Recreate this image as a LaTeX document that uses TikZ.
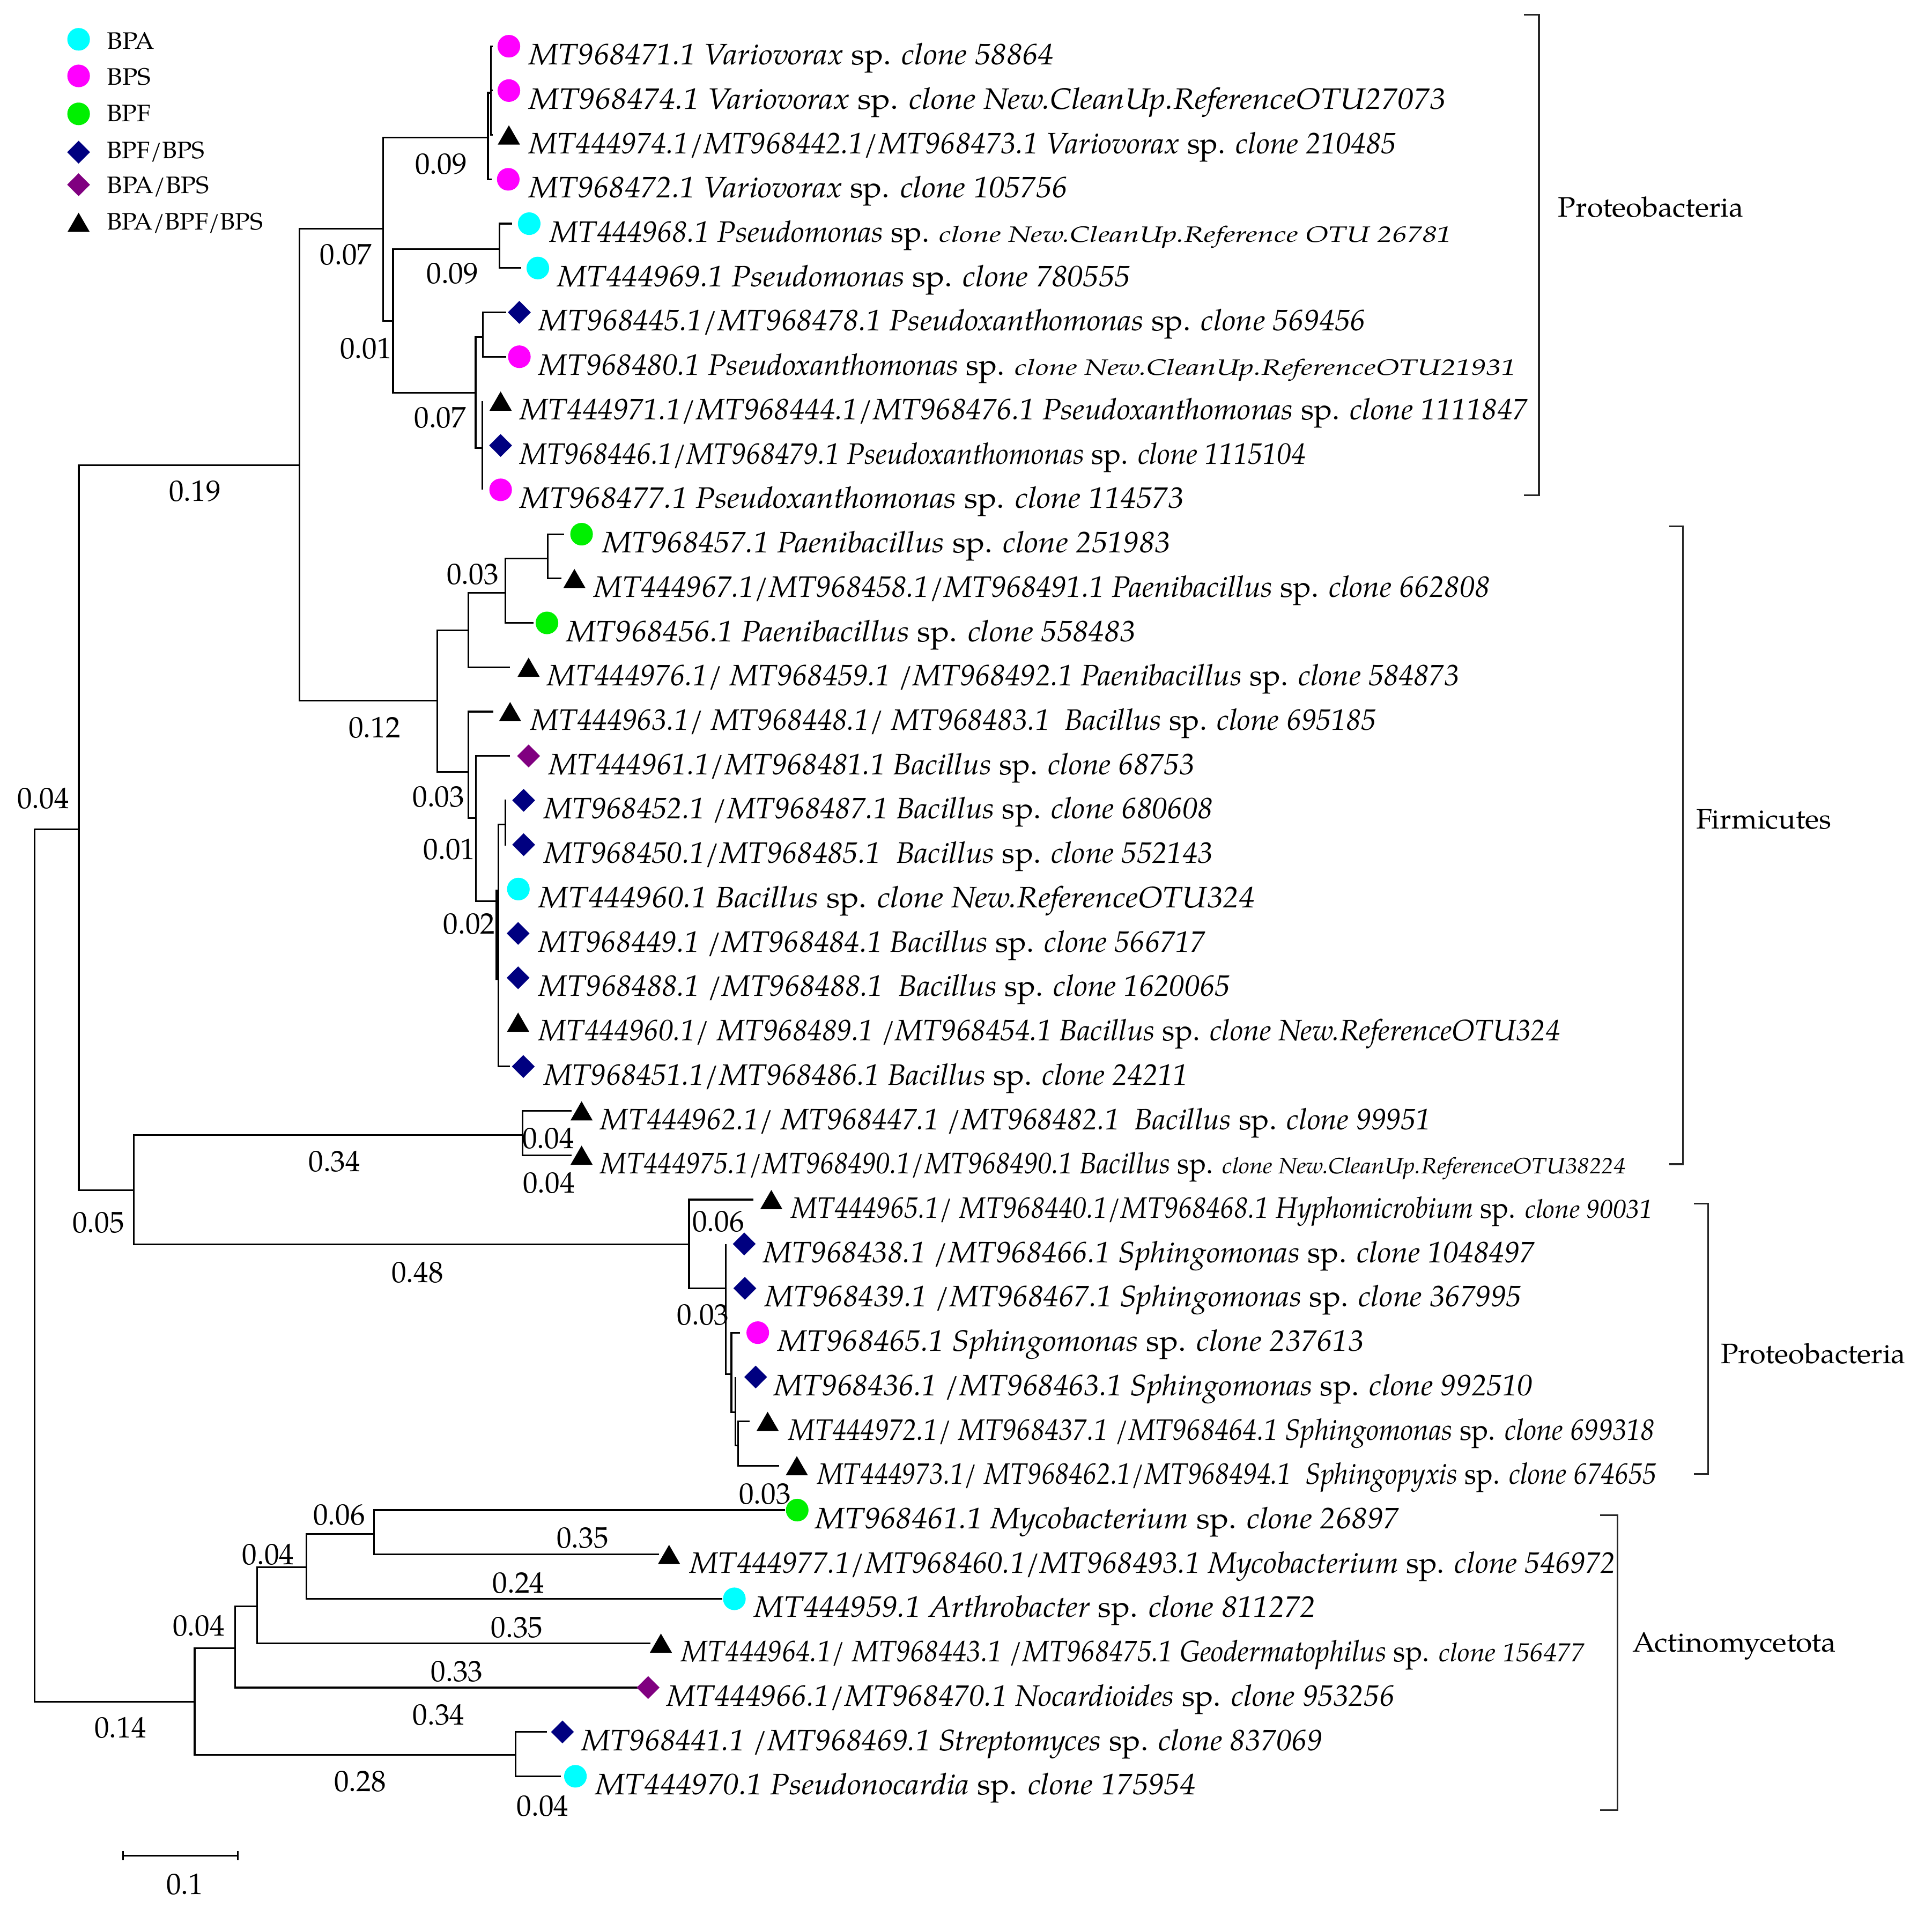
\documentclass[tikz,border=0pt]{standalone}
\usepackage{fontspec}
\setmainfont{TeX Gyre Pagella}
\usepackage{graphicx}
\usetikzlibrary{shapes.geometric}
\definecolor{cBPA}{RGB}{0,255,255}
\definecolor{cBPS}{RGB}{255,0,255}
\definecolor{cBPF}{RGB}{0,240,0}
\definecolor{cFS}{RGB}{0,0,128}
\definecolor{cAS}{RGB}{128,0,128}
\newlength\fwlen
\newcommand\fitw[2]{\settowidth\fwlen{#2}\pgfmathsetmacro\fwr{#1*0.65384/\fwlen}\scalebox{\fwr}[1]{#2}}
\newcommand\spp{{\upshape sp.}}
\newcommand\smA[2]{\fitw{#1}{\fontsize{11.8}{12}\selectfont #2}}
\newcommand\smB[2]{\fitw{#1}{\fontsize{13.8}{14}\selectfont #2}}
\tikzset{
 br/.style={line width=0.9pt},
 brk/.style={line width=0.9pt, draw=black!85},
 symc/.style={circle, inner sep=0pt, minimum size=12pt, fill=#1},
 symd/.style={diamond, inner sep=0pt, minimum width=12.3pt, minimum height=12.3pt, fill=#1},
 symt/.style={regular polygon, regular polygon sides=3, inner sep=0pt, minimum size=13.6pt, fill=black, yshift=-1.7pt},
 leaf/.style={inner sep=0pt, anchor=base west, font=\fontsize{15.7}{18}\selectfont\itshape},
 num/.style={inner sep=0pt, font=\fontsize{15.7}{18}\selectfont},
 leg/.style={inner sep=0pt, anchor=base west, font=\fontsize{12.6}{14}\selectfont},
 clade/.style={inner sep=0pt, anchor=base west, font=\fontsize{14.9}{16}\selectfont},
}
\newcommand\leaf[7]{\node[#2] (s#1) at (#3,#4) {};\node[leaf] (n#1) at (#5,#4+15) {\fitw{#6}{#7}};}
\newcommand\edge[2]{\draw[br] (#1) |- (#2);}
\begin{document}
\begin{tikzpicture}[x=0.02298cm, y=-0.02298cm]
\useasboundingbox (0,0) rectangle (1568,1560.6);
% ---------- legend
\node[symc=cBPA] (g1) at (63.8,31.9) {};
\node[leg] (lg1) at (86.6,39.7) {\fitw{38.3}{BPA}};
\node[symc=cBPS] (g2) at (63.8,61.6) {};
\node[leg] (lg2) at (86.6,68.8) {\fitw{35.5}{BPS}};
\node[symc=cBPF] (g3) at (63.8,92.4) {};
\node[leg] (lg3) at (86.6,98.5) {\fitw{35.5}{BPF}};
\node[symd=cFS] (g4) at (63.8,123.5) {};
\node[leg] (lg4) at (86.6,128.5) {\fitw{79.1}{BPF/BPS}};
\node[symd=cAS] (g5) at (63.8,149.9) {};
\node[leg] (lg5) at (86.6,156.8) {\fitw{82.7}{BPA/BPS}};
\node[symt] (g6) at (63.8,180.4) {};
\node[leg] (lg6) at (86.6,186.5) {\fitw{126.5}{BPA/BPF/BPS}};
% ---------- internal nodes
\coordinate (R) at (28,673);
\coordinate (A) at (64,673);
\coordinate (Act) at (158,1381);
\coordinate (B) at (243,377.5);
\coordinate (F) at (108.5,966);
\coordinate (C) at (311,185.5);
\coordinate (X) at (355,568.5);
\coordinate (D) at (396,111.7);
\coordinate (S) at (319,260.3);
\coordinate (E) at (398.5,75.3);
\coordinate (T) at (405.5,202);
\coordinate (U) at (386,318.6);
\coordinate (V) at (392,273.4);
\coordinate (W) at (391.3,363.6);
\coordinate (Y) at (380,511.6);
\coordinate (BB) at (380,626.4);
\coordinate (Z) at (410.3,481);
\coordinate (AA) at (444.5,453.3);
\coordinate (CC) at (386.3,664);
\coordinate (DD) at (404.5,731.5);
\coordinate (EE) at (410,669.2);
\coordinate (G) at (424,921);
\coordinate (H) at (559.2,1010);
\coordinate (I) at (589.2,1045.6);
\coordinate (J) at (593.6,1115);
\coordinate (K) at (596.9,1146);
\coordinate (L) at (599,1173);
\coordinate (M) at (191,1337.5);
\coordinate (N) at (418.3,1424);
\coordinate (O) at (208.7,1303.5);
\coordinate (P) at (248.7,1271.8);
\coordinate (Q) at (303.7,1245);
\coordinate (DDa) at (403,722);
\coordinate (DDb) at (403,795.6);
% ---------- leaf tips
\coordinate (t1) at (400,37.5);
\coordinate (t2) at (400,73.5);
\coordinate (t3) at (400,109.5);
\coordinate (t4) at (399,145.5);
\coordinate (t5) at (415.4,181.5);
\coordinate (t6) at (423,217.5);
\coordinate (t7) at (410.7,253.5);
\coordinate (t8) at (410.7,289.5);
\coordinate (t9) at (391.3,325.5);
\coordinate (t10) at (391.3,361.5);
\coordinate (t11) at (391.3,397.5);
\coordinate (t12) at (458,433.5);
\coordinate (t13) at (455.6,469.5);
\coordinate (t14) at (433.2,505.5);
\coordinate (t15) at (413.8,541.5);
\coordinate (t16) at (400.2,577.5);
\coordinate (t17) at (414,613.5);
\coordinate (t18) at (411,649.5);
\coordinate (t19) at (411,685.5);
\coordinate (t20) at (404.5,721.5);
\coordinate (t21) at (404.5,757.5);
\coordinate (t22) at (404.5,793.5);
\coordinate (t23) at (404.5,829.5);
\coordinate (t24) at (413.9,865.5);
\coordinate (t25) at (464,901.5);
\coordinate (t26) at (464,937.5);
\coordinate (t27) at (611.4,973.5);
\coordinate (t28) at (589.2,1009.5);
\coordinate (t29) at (589.2,1045.5);
\coordinate (t30) at (600.5,1081.5);
\coordinate (t31) at (596.9,1117.5);
\coordinate (t32) at (608.5,1153.5);
\coordinate (t33) at (632.4,1189.5);
\coordinate (t34) at (637,1225.5);
\coordinate (t35) at (535,1261.5);
\coordinate (t36) at (586,1297.5);
\coordinate (t37) at (528,1333.5);
\coordinate (t38) at (519.6,1369.5);
\coordinate (t39) at (444,1405.5);
\coordinate (t40) at (455,1441.5);
% ---------- edges
\edge{R}{A}\edge{R}{Act}
\edge{A}{B}\edge{A}{F}
\edge{B}{C}\edge{B}{X}
\edge{C}{D}\edge{C}{S}
\edge{D}{E}\edge{D}{t4}
\edge{E}{t1}\edge{E}{t2}\edge{E}{t3}
\edge{S}{T}\edge{S}{U}
\edge{T}{t5}\edge{T}{t6}
\edge{U}{V}\edge{U}{W}
\edge{V}{t7}\edge{V}{t8}
\edge{W}{t9}\edge{W}{t10}\edge{W}{t11}
\edge{X}{Y}\edge{X}{BB}
\edge{Y}{Z}\edge{Y}{t15}
\edge{Z}{AA}\edge{Z}{t14}
\edge{AA}{t12}\edge{AA}{t13}
\edge{BB}{t16}\edge{BB}{CC}
\edge{CC}{t17}\edge{CC}{DD}
\edge{DD}{EE}\edge{DD}{t20}\edge{DD}{t21}\edge{DD}{t22}\edge{DD}{t23}\edge{DD}{t24}
\edge{EE}{t18}\edge{EE}{t19}
\draw[br] (DDa) -- (DDb);
\edge{F}{G}\edge{F}{H}
\edge{G}{t25}\edge{G}{t26}
\edge{H}{t27}\edge{H}{I}
\edge{I}{t28}\edge{I}{t29}\edge{I}{J}
\edge{J}{t30}\edge{J}{K}
\edge{K}{t31}\edge{K}{L}
\edge{L}{t32}\edge{L}{t33}
\edge{Act}{M}\edge{Act}{N}
\edge{N}{t39}\edge{N}{t40}
\edge{M}{O}\edge{M}{t38}
\edge{O}{P}\edge{O}{t37}
\edge{P}{Q}\edge{P}{t36}
\edge{Q}{t34}\edge{Q}{t35}
% ---------- leaves
\leaf{1}{symc=cBPS}{413}{37.5}{429}{426}{MT968471.1 Variovorax \spp{} clone 58864}
\leaf{2}{symc=cBPS}{413}{73.5}{429}{744}{MT968474.1 Variovorax \spp{} clone New.CleanUp.ReferenceOTU27073}
\leaf{3}{symt}{413}{109.5}{429}{704}{MT444974.1/MT968442.1/MT968473.1 Variovorax \spp{} clone 210485}
\leaf{4}{symc=cBPS}{412.5}{145.5}{429}{437}{MT968472.1 Variovorax \spp{} clone 105756}
\leaf{5}{symc=cBPA}{429.5}{181.5}{446}{732}{MT444968.1 Pseudomonas \spp{} \smA{408}{clone New.CleanUp.Reference OTU 26781}}
\leaf{6}{symc=cBPA}{436.5}{217.5}{452}{465}{MT444969.1 Pseudomonas \spp{} clone 780555}
\leaf{7}{symd=cFS}{421.5}{253.5}{437}{671}{MT968445.1/MT968478.1 Pseudoxanthomonas \spp{} clone 569456}
\leaf{8}{symc=cBPS}{421.5}{289.5}{437}{793}{MT968480.1 Pseudoxanthomonas \spp{} \smA{395}{clone New.CleanUp.ReferenceOTU21931}}
\leaf{9}{symt}{406.3}{325.5}{421.5}{818}{MT444971.1/MT968444.1/MT968476.1 Pseudoxanthomonas \spp{} clone 1111847}
\leaf{10}{symd=cFS}{406.3}{361.5}{421.5}{638}{MT968446.1/MT968479.1 Pseudoxanthomonas \spp{} clone 1115104}
\leaf{11}{symc=cBPS}{406.3}{397.5}{421.5}{539}{MT968477.1 Pseudoxanthomonas \spp{} clone 114573}
\leaf{12}{symc=cBPF}{472}{433.5}{488.6}{461}{MT968457.1 Paenibacillus \spp{} clone 251983}
\leaf{13}{symt}{466.2}{469.5}{481.8}{727}{MT444967.1/MT968458.1/MT968491.1 Paenibacillus \spp{} clone 662808}
\leaf{14}{symc=cBPF}{443.9}{505.5}{459.4}{462}{MT968456.1 Paenibacillus \spp{} clone 558483}
\leaf{15}{symt}{429}{541.5}{444}{740}{MT444976.1/ MT968459.1 /MT968492.1 Paenibacillus \spp{} clone 584873}
\leaf{16}{symt}{414}{577.5}{430.5}{686}{MT444963.1/ MT968448.1/ MT968483.1\ \ Bacillus \spp{} clone 695185}
\leaf{17}{symd=cAS}{429}{613.5}{445}{524}{MT444961.1/MT968481.1 Bacillus \spp{} clone 68753}
\leaf{18}{symd=cFS}{425}{649.5}{441}{543}{MT968452.1 /MT968487.1 Bacillus \spp{} clone 680608}
\leaf{19}{symd=cFS}{425}{685.5}{441}{543}{MT968450.1/MT968485.1\ \ Bacillus \spp{} clone 552143}
\leaf{20}{symc=cBPA}{420.7}{721.5}{437}{581}{MT444960.1 Bacillus \spp{} clone New.ReferenceOTU324}
\leaf{21}{symd=cFS}{420.5}{757.5}{437}{541}{MT968449.1 /MT968484.1 Bacillus \spp{} clone 566717}
\leaf{22}{symd=cFS}{420.5}{793.5}{437}{561}{MT968488.1 /MT968488.1\ \ Bacillus \spp{} clone 1620065}
\leaf{23}{symt}{420.5}{829.5}{437}{829}{MT444960.1/ MT968489.1 /MT968454.1 Bacillus \spp{} clone New.ReferenceOTU324}
\leaf{24}{symd=cFS}{424.7}{865.5}{441}{523}{MT968451.1/MT968486.1 Bacillus \spp{} clone 24211}
\leaf{25}{symt}{472}{901.5}{487}{674}{MT444962.1/ MT968447.1 /MT968482.1\ \ Bacillus \spp{} clone 99951}
\leaf{26}{symt}{472}{937.5}{487}{832}{MT444975.1/MT968490.1/MT968490.1 Bacillus \spp{} \smA{346}{clone New.CleanUp.ReferenceOTU38224}}
\leaf{27}{symt}{626}{973.5}{642}{699}{MT444965.1/ MT968440.1/MT968468.1 Hyphomicrobium \spp{} \smB{110}{clone 90031}}
\leaf{28}{symd=cFS}{604}{1009.5}{619.4}{626}{MT968438.1 /MT968466.1 Sphingomonas \spp{} clone 1048497}
\leaf{29}{symd=cFS}{604.5}{1045.5}{620.5}{614}{MT968439.1 /MT968467.1 Sphingomonas \spp{} clone 367995}
\leaf{30}{symc=cBPS}{615}{1081.5}{631}{475.5}{MT968465.1 Sphingomonas \spp{} clone 237613}
\leaf{31}{symd=cFS}{613.3}{1117.5}{628}{615.7}{MT968436.1 /MT968463.1 Sphingomonas \spp{} clone 992510}
\leaf{32}{symt}{623}{1153.5}{639.7}{703}{MT444972.1/ MT968437.1 /MT968464.1 Sphingomonas \spp{} clone 699318}
\leaf{33}{symt}{646.7}{1189.5}{663}{681}{MT444973.1/ MT968462.1/MT968494.1\ \ Sphingopyxis \spp{} clone 674655}
\leaf{34}{symc=cBPF}{647}{1225.5}{661.6}{473.4}{MT968461.1 Mycobacterium \spp{} clone 26897}
\leaf{35}{symt}{543}{1261.5}{559.5}{751.5}{MT444977.1/MT968460.1/MT968493.1 Mycobacterium \spp{} clone 546972}
\leaf{36}{symc=cBPA}{596}{1297.5}{612}{455.6}{MT444959.1 Arthrobacter \spp{} clone 811272}
\leaf{37}{symt}{536.4}{1333.5}{552.8}{732.8}{MT444964.1/ MT968443.1 /MT968475.1 Geodermatophilus \spp{} \smB{123.6}{clone 156477}}
\leaf{38}{symd=cAS}{526}{1369.5}{541}{590.5}{MT444966.1/MT968470.1 Nocardioides \spp{} clone 953256}
\leaf{39}{symd=cFS}{456.5}{1405.5}{471.6}{601.4}{MT968441.1 /MT968469.1 Streptomyces \spp{} clone 837069}
\leaf{40}{symc=cBPA}{467}{1441.5}{483}{487}{MT444970.1 Pseudonocardia \spp{} clone 175954}
% ---------- branch values
\node[num] (v1) at (35,648) {0.04};
\node[num] (v2) at (158.2,398.8) {0.19};
\node[num] (v3) at (280.8,206.8) {0.07};
\node[num] (v4) at (358,133.2) {0.09};
\node[num] (v5) at (367.2,222) {0.09};
\node[num] (v6) at (297,283) {0.01};
\node[num] (v7) at (357.2,339) {0.07};
\node[num] (v8) at (383.7,466.1) {0.03};
\node[num] (v9) at (304,590.3) {0.12};
\node[num] (v10) at (355.9,646.5) {0.03};
\node[num] (v11) at (364.7,689.2) {0.01};
\node[num] (v12) at (380.8,749.9) {0.02};
\node[num] (v13) at (445,924) {0.04};
\node[num] (v14) at (445.4,960) {0.04};
\node[num] (v15) at (271.5,942.6) {0.34};
\node[num] (v16) at (79.9,992.4) {0.05};
\node[num] (v17) at (338.8,1032.8) {0.48};
\node[num] (v18) at (583,991.2) {0.06};
\node[num] (v19) at (570.5,1066.9) {0.03};
\node[num] (v20) at (620.8,1212.6) {0.03};
\node[num] (v21) at (275.3,1229.3) {0.06};
\node[num] (v22) at (472.9,1248) {0.35};
\node[num] (v23) at (217.6,1261.4) {0.04};
\node[num] (v24) at (420.9,1284.6) {0.24};
\node[num] (v25) at (161.2,1319.6) {0.04};
\node[num] (v26) at (419.6,1320.9) {0.35};
\node[num] (v27) at (370.8,1356.3) {0.33};
\node[num] (v28) at (356.1,1391.6) {0.34};
\node[num] (v29) at (97.7,1402) {0.14};
\node[num] (v30) at (292.2,1445.8) {0.28};
\node[num] (v31) at (440.5,1465.8) {0.04};
% ---------- scale bar
\coordinate (sb1) at (100,1506);
\coordinate (sb2) at (193,1506);
\draw[br] (sb1) -- (sb2);
\draw[br] ([yshift=2.3pt]sb1) -- ([yshift=-2.3pt]sb1);
\draw[br] ([yshift=2.3pt]sb2) -- ([yshift=-2.3pt]sb2);
\node[num] (sbl) at (150,1529) {0.1};
% ---------- clade brackets
\coordinate (b1a) at (1236.8,11.9);
\coordinate (b1b) at (1249,11.9);
\coordinate (b1c) at (1249,401.9);
\coordinate (b1d) at (1236.8,401.9);
\draw[brk] (b1a) -- (b1b) -- (b1c) -- (b1d);
\node[clade] (c1) at (1264.3,176.2) {\fitw{150.4}{Proteobacteria}};
\coordinate (b2a) at (1354.6,427.3);
\coordinate (b2b) at (1366,427.3);
\coordinate (b2c) at (1366,944.8);
\coordinate (b2d) at (1354.6,944.8);
\draw[brk] (b2a) -- (b2b) -- (b2c) -- (b2d);
\node[clade] (c2) at (1376.2,672.7) {\fitw{110}{Firmicutes}};
\coordinate (b3a) at (1374.6,976.6);
\coordinate (b3b) at (1386.3,976.6);
\coordinate (b3c) at (1386.3,1196.3);
\coordinate (b3d) at (1374.6,1196.3);
\draw[brk] (b3a) -- (b3b) -- (b3c) -- (b3d);
\node[clade] (c3) at (1396.3,1106.5) {\fitw{149.9}{Proteobacteria}};
\coordinate (b4a) at (1298.5,1229.8);
\coordinate (b4b) at (1312.6,1229.8);
\coordinate (b4c) at (1312.6,1468.9);
\coordinate (b4d) at (1298.5,1468.9);
\draw[brk] (b4a) -- (b4b) -- (b4c) -- (b4d);
\node[clade] (c4) at (1324.5,1340.5) {\fitw{165.5}{Actinomycetota}};
\end{tikzpicture}
\end{document}
